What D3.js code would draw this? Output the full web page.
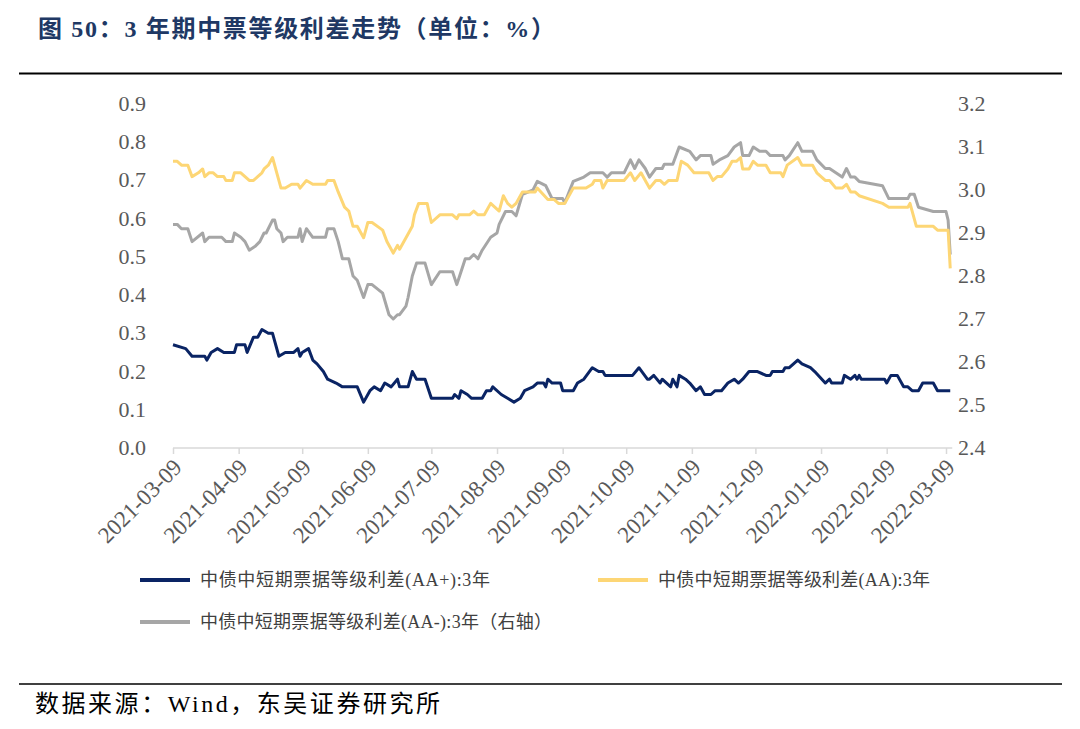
<!DOCTYPE html>
<html>
<head>
<meta charset="utf-8">
<script src="https://cdn.jsdelivr.net/npm/d3@7/dist/d3.min.js"></script>
<style>
  body { margin: 0; background: #fff; }
  svg { display: block; }
</style>
</head>
<body>
<svg id="chart" width="1080" height="729"></svg>
<script>
// 中债中短期票据等级利差(AA+):3年 —— 左轴
var aaPlus = [
  ["2021-03-09", 0.27], ["2021-03-15", 0.26], ["2021-03-18", 0.24], ["2021-03-24", 0.24], ["2021-03-25", 0.23],
  ["2021-03-27", 0.25], ["2021-03-30", 0.26], ["2021-04-02", 0.25], ["2021-04-07", 0.25], ["2021-04-08", 0.27],
  ["2021-04-12", 0.27], ["2021-04-13", 0.25], ["2021-04-16", 0.29], ["2021-04-18", 0.29], ["2021-04-20", 0.31],
  ["2021-04-23", 0.30], ["2021-04-25", 0.30], ["2021-04-28", 0.24], ["2021-05-01", 0.25], ["2021-05-05", 0.25],
  ["2021-05-07", 0.26], ["2021-05-08", 0.24], ["2021-05-09", 0.25], ["2021-05-12", 0.26], ["2021-05-14", 0.23],
  ["2021-05-16", 0.22], ["2021-05-19", 0.20], ["2021-05-21", 0.18], ["2021-05-25", 0.17], ["2021-05-28", 0.16],
  ["2021-06-04", 0.16], ["2021-06-07", 0.12], ["2021-06-10", 0.15], ["2021-06-12", 0.16], ["2021-06-15", 0.15],
  ["2021-06-17", 0.17], ["2021-06-20", 0.16], ["2021-06-23", 0.18], ["2021-06-24", 0.16], ["2021-06-28", 0.16],
  ["2021-06-30", 0.20], ["2021-07-02", 0.18], ["2021-07-06", 0.18], ["2021-07-09", 0.13], ["2021-07-19", 0.13],
  ["2021-07-20", 0.14], ["2021-07-22", 0.13], ["2021-07-23", 0.15], ["2021-07-26", 0.14], ["2021-07-28", 0.13],
  ["2021-08-02", 0.13], ["2021-08-04", 0.15], ["2021-08-06", 0.15], ["2021-08-07", 0.16], ["2021-08-11", 0.14],
  ["2021-08-14", 0.13], ["2021-08-17", 0.12], ["2021-08-20", 0.13], ["2021-08-22", 0.15], ["2021-08-26", 0.16],
  ["2021-08-28", 0.17], ["2021-08-31", 0.17], ["2021-09-01", 0.16], ["2021-09-02", 0.18], ["2021-09-04", 0.17],
  ["2021-09-08", 0.17], ["2021-09-09", 0.15], ["2021-09-14", 0.15], ["2021-09-16", 0.17], ["2021-09-19", 0.18],
  ["2021-09-23", 0.21], ["2021-09-26", 0.20], ["2021-09-28", 0.20], ["2021-09-29", 0.19], ["2021-10-12", 0.19],
  ["2021-10-15", 0.21], ["2021-10-19", 0.18], ["2021-10-20", 0.18], ["2021-10-22", 0.19], ["2021-10-25", 0.17],
  ["2021-10-26", 0.18], ["2021-10-30", 0.16], ["2021-10-31", 0.18], ["2021-11-02", 0.16], ["2021-11-03", 0.19],
  ["2021-11-06", 0.18], ["2021-11-08", 0.17], ["2021-11-11", 0.15], ["2021-11-13", 0.16], ["2021-11-15", 0.14],
  ["2021-11-18", 0.14], ["2021-11-20", 0.15], ["2021-11-23", 0.15], ["2021-11-26", 0.17], ["2021-11-29", 0.18],
  ["2021-12-01", 0.17], ["2021-12-03", 0.18], ["2021-12-06", 0.20], ["2021-12-10", 0.20], ["2021-12-14", 0.19],
  ["2021-12-16", 0.19], ["2021-12-17", 0.20], ["2021-12-22", 0.20], ["2021-12-23", 0.21], ["2021-12-25", 0.21],
  ["2021-12-29", 0.23], ["2021-12-31", 0.22], ["2022-01-04", 0.21], ["2022-01-06", 0.20], ["2022-01-11", 0.17],
  ["2022-01-13", 0.18], ["2022-01-14", 0.17], ["2022-01-19", 0.17], ["2022-01-20", 0.19], ["2022-01-23", 0.18],
  ["2022-01-25", 0.19], ["2022-01-26", 0.18], ["2022-01-27", 0.19], ["2022-01-28", 0.18], ["2022-02-08", 0.18],
  ["2022-02-09", 0.17], ["2022-02-11", 0.19], ["2022-02-14", 0.19], ["2022-02-17", 0.16], ["2022-02-19", 0.16],
  ["2022-02-21", 0.15], ["2022-02-24", 0.15], ["2022-02-26", 0.17], ["2022-03-03", 0.17], ["2022-03-05", 0.15],
  ["2022-03-11", 0.15]
];

// 中债中短期票据等级利差(AA):3年 —— 左轴
var aa = [
  ["2021-03-09", 0.75], ["2021-03-11", 0.75], ["2021-03-13", 0.74], ["2021-03-16", 0.74], ["2021-03-18", 0.71],
  ["2021-03-21", 0.72], ["2021-03-23", 0.73], ["2021-03-24", 0.71], ["2021-03-26", 0.72], ["2021-03-28", 0.72],
  ["2021-03-30", 0.71], ["2021-04-02", 0.71], ["2021-04-03", 0.70], ["2021-04-06", 0.70], ["2021-04-07", 0.72],
  ["2021-04-10", 0.72], ["2021-04-12", 0.71], ["2021-04-14", 0.70], ["2021-04-16", 0.70], ["2021-04-18", 0.71],
  ["2021-04-20", 0.72], ["2021-04-21", 0.73], ["2021-04-23", 0.74], ["2021-04-25", 0.76], ["2021-04-27", 0.72],
  ["2021-04-29", 0.68], ["2021-05-01", 0.68], ["2021-05-04", 0.69], ["2021-05-07", 0.69], ["2021-05-08", 0.68],
  ["2021-05-11", 0.70], ["2021-05-14", 0.69], ["2021-05-20", 0.69], ["2021-05-21", 0.70], ["2021-05-24", 0.70],
  ["2021-05-26", 0.67], ["2021-05-29", 0.63], ["2021-05-31", 0.62], ["2021-06-02", 0.58], ["2021-06-04", 0.58],
  ["2021-06-07", 0.55], ["2021-06-09", 0.59], ["2021-06-11", 0.59], ["2021-06-16", 0.57], ["2021-06-18", 0.54],
  ["2021-06-21", 0.51], ["2021-06-23", 0.53], ["2021-06-24", 0.52], ["2021-06-28", 0.56], ["2021-06-30", 0.58],
  ["2021-07-01", 0.61], ["2021-07-03", 0.64], ["2021-07-07", 0.64], ["2021-07-09", 0.59], ["2021-07-13", 0.61],
  ["2021-07-19", 0.61], ["2021-07-21", 0.60], ["2021-07-22", 0.61], ["2021-07-27", 0.61], ["2021-07-29", 0.62],
  ["2021-07-31", 0.61], ["2021-08-03", 0.61], ["2021-08-06", 0.64], ["2021-08-10", 0.62], ["2021-08-12", 0.66],
  ["2021-08-14", 0.64], ["2021-08-16", 0.63], ["2021-08-18", 0.64], ["2021-08-21", 0.67], ["2021-08-27", 0.67],
  ["2021-08-28", 0.68], ["2021-09-02", 0.65], ["2021-09-05", 0.65], ["2021-09-07", 0.64], ["2021-09-10", 0.64],
  ["2021-09-14", 0.68], ["2021-09-20", 0.68], ["2021-09-23", 0.69], ["2021-09-24", 0.70], ["2021-09-27", 0.70],
  ["2021-09-28", 0.68], ["2021-09-30", 0.70], ["2021-10-08", 0.70], ["2021-10-11", 0.72], ["2021-10-13", 0.70],
  ["2021-10-16", 0.72], ["2021-10-18", 0.70], ["2021-10-20", 0.68], ["2021-10-23", 0.70], ["2021-10-25", 0.70],
  ["2021-10-27", 0.69], ["2021-10-29", 0.70], ["2021-11-02", 0.70], ["2021-11-04", 0.75], ["2021-11-07", 0.74],
  ["2021-11-10", 0.72], ["2021-11-12", 0.72], ["2021-11-17", 0.72], ["2021-11-19", 0.70], ["2021-11-21", 0.71],
  ["2021-11-23", 0.71], ["2021-11-26", 0.73], ["2021-11-28", 0.75], ["2021-11-30", 0.75], ["2021-12-02", 0.76],
  ["2021-12-03", 0.73], ["2021-12-06", 0.73], ["2021-12-08", 0.75], ["2021-12-10", 0.74], ["2021-12-14", 0.74],
  ["2021-12-16", 0.72], ["2021-12-21", 0.72], ["2021-12-22", 0.71], ["2021-12-24", 0.74], ["2021-12-29", 0.76],
  ["2021-12-31", 0.74], ["2022-01-05", 0.74], ["2022-01-07", 0.72], ["2022-01-11", 0.70], ["2022-01-13", 0.70],
  ["2022-01-16", 0.68], ["2022-01-19", 0.68], ["2022-01-21", 0.69], ["2022-01-23", 0.67], ["2022-01-25", 0.67],
  ["2022-01-27", 0.66], ["2022-02-07", 0.64], ["2022-02-10", 0.63], ["2022-02-19", 0.63], ["2022-02-20", 0.64],
  ["2022-02-23", 0.58], ["2022-03-03", 0.58], ["2022-03-05", 0.57], ["2022-03-10", 0.57], ["2022-03-11", 0.47]
];

// 中债中短期票据等级利差(AA-):3年 —— 右轴
var aaMinus = [
  ["2021-03-09", 2.92], ["2021-03-11", 2.92], ["2021-03-13", 2.91], ["2021-03-16", 2.91], ["2021-03-18", 2.88],
  ["2021-03-23", 2.90], ["2021-03-24", 2.88], ["2021-03-26", 2.89], ["2021-03-29", 2.89], ["2021-04-01", 2.89],
  ["2021-04-03", 2.88], ["2021-04-06", 2.88], ["2021-04-07", 2.90], ["2021-04-10", 2.89], ["2021-04-12", 2.88],
  ["2021-04-14", 2.86], ["2021-04-17", 2.87], ["2021-04-19", 2.88], ["2021-04-21", 2.90], ["2021-04-22", 2.90],
  ["2021-04-25", 2.93], ["2021-04-26", 2.93], ["2021-04-27", 2.91], ["2021-04-29", 2.90], ["2021-04-30", 2.88],
  ["2021-05-02", 2.89], ["2021-05-07", 2.89], ["2021-05-08", 2.91], ["2021-05-09", 2.88], ["2021-05-11", 2.91],
  ["2021-05-14", 2.89], ["2021-05-20", 2.89], ["2021-05-21", 2.91], ["2021-05-24", 2.91], ["2021-05-26", 2.88],
  ["2021-05-28", 2.84], ["2021-05-31", 2.84], ["2021-06-02", 2.80], ["2021-06-04", 2.79], ["2021-06-07", 2.75],
  ["2021-06-09", 2.78], ["2021-06-11", 2.78], ["2021-06-16", 2.76], ["2021-06-19", 2.71], ["2021-06-21", 2.70],
  ["2021-06-23", 2.71], ["2021-06-24", 2.71], ["2021-06-27", 2.73], ["2021-06-28", 2.75], ["2021-06-30", 2.80],
  ["2021-07-02", 2.83], ["2021-07-06", 2.83], ["2021-07-09", 2.78], ["2021-07-13", 2.81], ["2021-07-19", 2.81],
  ["2021-07-21", 2.78], ["2021-07-23", 2.81], ["2021-07-25", 2.84], ["2021-07-27", 2.84], ["2021-07-29", 2.85],
  ["2021-07-31", 2.84], ["2021-08-02", 2.86], ["2021-08-06", 2.89], ["2021-08-09", 2.90], ["2021-08-10", 2.92],
  ["2021-08-13", 2.95], ["2021-08-16", 2.95], ["2021-08-18", 2.94], ["2021-08-21", 2.99], ["2021-08-26", 3.00],
  ["2021-08-28", 3.02], ["2021-09-01", 3.01], ["2021-09-02", 3.00], ["2021-09-04", 2.98], ["2021-09-09", 2.98],
  ["2021-09-10", 2.97], ["2021-09-14", 3.02], ["2021-09-19", 3.03], ["2021-09-22", 3.04], ["2021-09-28", 3.04],
  ["2021-09-30", 3.03], ["2021-10-02", 3.04], ["2021-10-08", 3.04], ["2021-10-11", 3.07], ["2021-10-13", 3.05],
  ["2021-10-15", 3.07], ["2021-10-18", 3.05], ["2021-10-20", 3.03], ["2021-10-23", 3.05], ["2021-10-26", 3.05],
  ["2021-10-27", 3.06], ["2021-10-31", 3.06], ["2021-11-03", 3.10], ["2021-11-08", 3.09], ["2021-11-11", 3.07],
  ["2021-11-13", 3.08], ["2021-11-18", 3.08], ["2021-11-19", 3.06], ["2021-11-22", 3.07], ["2021-11-26", 3.08],
  ["2021-11-29", 3.10], ["2021-12-02", 3.11], ["2021-12-03", 3.08], ["2021-12-06", 3.08], ["2021-12-08", 3.10],
  ["2021-12-11", 3.09], ["2021-12-14", 3.09], ["2021-12-16", 3.08], ["2021-12-22", 3.08], ["2021-12-23", 3.07],
  ["2021-12-25", 3.08], ["2021-12-29", 3.11], ["2021-12-31", 3.09], ["2022-01-05", 3.09], ["2022-01-07", 3.07],
  ["2022-01-11", 3.05], ["2022-01-13", 3.05], ["2022-01-16", 3.04], ["2022-01-19", 3.03], ["2022-01-21", 3.05],
  ["2022-01-23", 3.03], ["2022-01-25", 3.03], ["2022-01-27", 3.02], ["2022-02-07", 3.01], ["2022-02-10", 2.98],
  ["2022-02-19", 2.98], ["2022-02-20", 2.99], ["2022-02-22", 2.99], ["2022-02-24", 2.96], ["2022-03-03", 2.95],
  ["2022-03-05", 2.95], ["2022-03-09", 2.95], ["2022-03-10", 2.93], ["2022-03-11", 2.85]
];

var xTickLabels = ["2021-03-09", "2021-04-09", "2021-05-09", "2021-06-09", "2021-07-09", "2021-08-09", "2021-09-09",
  "2021-10-09", "2021-11-09", "2021-12-09", "2022-01-09", "2022-02-09", "2022-03-09"];
var leftTicks = [0, 0.1, 0.2, 0.3, 0.4, 0.5, 0.6, 0.7, 0.8, 0.9];
var rightTicks = [2.4, 2.5, 2.6, 2.7, 2.8, 2.9, 3.0, 3.1, 3.2];
var seriesNames = ["中债中短期票据等级利差(AA+):3年", "中债中短期票据等级利差(AA):3年", "中债中短期票据等级利差(AA-):3年（右轴）"];

var parse = d3.timeParse("%Y-%m-%d");
var serif = "'Liberation Serif', 'Times New Roman', 'Noto Sans CJK SC', serif";
var cjk = "'Liberation Serif', 'Noto Sans CJK SC', sans-serif";

var svg = d3.select("#chart");
svg.append("rect").attr("width", 1080).attr("height", 729).attr("fill", "#fff");

// 标题和分隔线
svg.append("text")
    .attr("x", 38).attr("y", 37)
    .attr("font-family", cjk).attr("font-size", 24).attr("font-weight", "bold")
    .attr("fill", "#203864")
    .attr("textLength", 517).attr("lengthAdjust", "spacing")
    .text("图 50：3 年期中票等级利差走势（单位：%）");
svg.append("line").attr("x1", 19).attr("x2", 1062).attr("y1", 73.5).attr("y2", 73.5)
    .attr("stroke", "#000").attr("stroke-width", 2);

// 比例尺
var x = d3.scaleTime()
    .domain([parse("2021-03-09"), parse("2022-03-09")])
    .range([173, 946]);
var yL = d3.scaleLinear().domain([0, 0.9]).range([448, 104]);
var yR = d3.scaleLinear().domain([2.4, 3.2]).range([448, 104]);

// x轴
var xAxis = svg.append("g")
    .attr("transform", "translate(0,448)")
    .call(d3.axisBottom(x)
        .tickValues(xTickLabels.map(parse))
        .tickSize(6).tickSizeOuter(0)
        .tickFormat(d3.timeFormat("%Y-%m-%d")));
xAxis.select(".domain").remove();
xAxis.selectAll(".tick line").attr("stroke", "#d9d9d9").attr("stroke-width", 1.5);
xAxis.selectAll(".tick text")
    .attr("font-family", serif).attr("font-size", 23).attr("fill", "#595959")
    .attr("text-anchor", "end")
    .attr("x", 0).attr("y", 0).attr("dy", "0.35em")
    .attr("transform", "translate(4,15) rotate(-45)");
xAxis.append("line")
    .attr("x1", 173).attr("x2", x(parse("2022-03-11")) + 2)
    .attr("stroke", "#d9d9d9").attr("stroke-width", 1.5);

// 左轴
svg.append("g").selectAll("text")
    .data(leftTicks)
  .enter().append("text")
    .attr("x", 146).attr("y", d => yL(d)).attr("dy", "0.32em")
    .attr("text-anchor", "end")
    .attr("font-family", serif).attr("font-size", 22).attr("fill", "#595959")
    .text(d => d3.format(".1f")(d));

// 右轴
svg.append("g").selectAll("text")
    .data(rightTicks)
  .enter().append("text")
    .attr("x", 958).attr("y", d => yR(d)).attr("dy", "0.32em")
    .attr("font-family", serif).attr("font-size", 22).attr("fill", "#595959")
    .text(d => d3.format(".1f")(d));

// 折线
var colors = ["#0a2464", "#fdd675", "#a6a6a6"];
var lineL = d3.line().x(d => x(parse(d[0]))).y(d => yL(d[1]));
var lineR = d3.line().x(d => x(parse(d[0]))).y(d => yR(d[1]));

svg.append("path").datum(aaMinus).attr("d", lineR)
    .attr("fill", "none").attr("stroke", colors[2]).attr("stroke-width", 3).attr("stroke-linejoin", "round");
svg.append("path").datum(aa).attr("d", lineL)
    .attr("fill", "none").attr("stroke", colors[1]).attr("stroke-width", 3).attr("stroke-linejoin", "round");
svg.append("path").datum(aaPlus).attr("d", lineL)
    .attr("fill", "none").attr("stroke", colors[0]).attr("stroke-width", 3).attr("stroke-linejoin", "round");

// 图例
var legendPos = [[140, 580], [598, 580], [140, 622]];
var legendWidth = [290, 272, 352];
var lg = svg.append("g").selectAll("g")
    .data(seriesNames)
  .enter().append("g")
    .attr("transform", (d, i) => "translate(" + legendPos[i][0] + "," + legendPos[i][1] + ")");
lg.append("line").attr("x1", 0).attr("x2", 50)
    .attr("stroke", (d, i) => colors[i]).attr("stroke-width", 4);
lg.append("text")
    .attr("x", 60).attr("dy", "0.35em")
    .attr("font-family", cjk).attr("font-size", 18).attr("fill", "#404040")
    .attr("textLength", (d, i) => legendWidth[i]).attr("lengthAdjust", "spacing")
    .text(d => d);

// 数据来源
svg.append("line").attr("x1", 19).attr("x2", 1062).attr("y1", 684).attr("y2", 684)
    .attr("stroke", "#000").attr("stroke-width", 1.5);
svg.append("text")
    .attr("x", 35).attr("y", 712)
    .attr("font-family", cjk).attr("font-size", 24).attr("fill", "#000")
    .attr("textLength", 405).attr("lengthAdjust", "spacing")
    .text("数据来源：Wind，东吴证券研究所");
</script>
</body>
</html>
